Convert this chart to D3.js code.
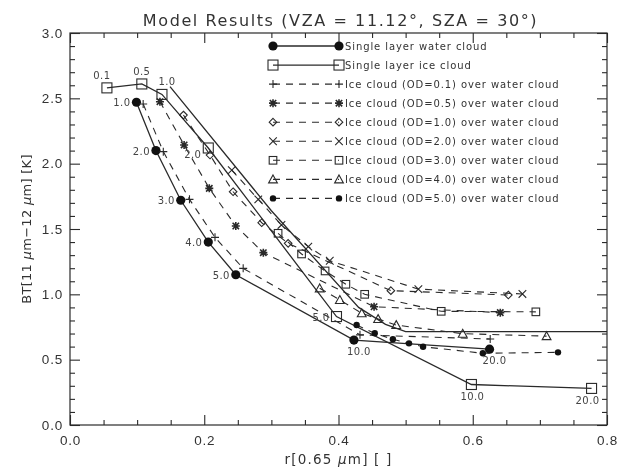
<!DOCTYPE html>
<html>
<head>
<meta charset="utf-8">
<script src="https://cdn.jsdelivr.net/npm/d3@7"></script>
<style>
body { margin: 0; background: #fff; }
svg { display: block; font-family: "DejaVu Sans", sans-serif; filter: blur(0.3px); }
</style>
</head>
<body>
<script>
// single layer water cloud (labels = water OD)
var waterOD = ["1.0", "2.0", "3.0", "4.0", "5.0", "10.0", "20.0"];
var waterR  = [0.099, 0.128, 0.165, 0.206, 0.247, 0.423, 0.625];
var waterBT = [2.47, 2.10, 1.72, 1.40, 1.15, 0.65, 0.58];

// single layer ice cloud (labels = ice OD)
var iceOD = ["0.1", "0.5", "1.0", "2.0", "5.0", "10.0", "20.0"];
var iceR  = [0.055, 0.107, 0.137, 0.206, 0.397, 0.598, 0.777];
var iceBT = [2.58, 2.61, 2.53, 2.12, 0.83, 0.31, 0.28];

// unmarked solid curve
var edgeR  = [0.149, 0.30, 0.43, 0.47, 0.50, 0.80];
var edgeBT = [2.59, 1.64, 0.90, 0.77, 0.715, 0.715];

// ice cloud over water cloud, water OD = 1,2,3,4,5,10,20
var od01R  = [0.109, 0.139, 0.178, 0.216, 0.258, 0.432, 0.626];
var od01BT = [2.457, 2.092, 1.727, 1.436, 1.199, 0.69, 0.658];
var od05R  = [0.134, 0.170, 0.2075, 0.247, 0.288, 0.453, 0.641];
var od05BT = [2.474, 2.143, 1.811, 1.523, 1.319, 0.905, 0.86];
var od10R  = [0.169, 0.2086, 0.243, 0.2856, 0.325, 0.478, 0.653];
var od10BT = [2.372, 2.066, 1.785, 1.548, 1.390, 1.028, 0.995];
var od20R  = [0.241, 0.2805, 0.315, 0.355, 0.387, 0.519, 0.674];
var od20BT = [1.951, 1.727, 1.531, 1.365, 1.257, 1.04, 1.003];
var od30R  = [0.310, 0.345, 0.380, 0.411, 0.439, 0.553, 0.694];
var od30BT = [1.467, 1.309, 1.179, 1.077, 1.000, 0.87, 0.866];
var od40R  = [0.372, 0.402, 0.4346, 0.459, 0.486, 0.585, 0.710];
var od40BT = [1.046, 0.957, 0.855, 0.811, 0.765, 0.699, 0.68];
var od50R  = [0.427, 0.454, 0.481, 0.505, 0.526, 0.615, 0.727];
var od50BT = [0.765, 0.702, 0.656, 0.625, 0.599, 0.549, 0.556];

var legendNames = [
  "Single layer water cloud",
  "Single layer ice cloud",
  "Ice cloud (OD=0.1) over water cloud",
  "Ice cloud (OD=0.5) over water cloud",
  "Ice cloud (OD=1.0) over water cloud",
  "Ice cloud (OD=2.0) over water cloud",
  "Ice cloud (OD=3.0) over water cloud",
  "Ice cloud (OD=4.0) over water cloud",
  "Ice cloud (OD=5.0) over water cloud"
];

var xTicks = [0.0, 0.2, 0.4, 0.6, 0.8];
var yTicks = [0.0, 0.5, 1.0, 1.5, 2.0, 2.5, 3.0];

var W = 620, H = 468;
var ink = "#2a2a2a";

var svg = d3.select("body").append("svg")
    .attr("width", W)
    .attr("height", H);

var x = d3.scaleLinear().domain([0, 0.8]).range([70, 607]);
var y = d3.scaleLinear().domain([0, 3]).range([425, 33]);

// minor tick values
var xMinor = d3.range(0, 0.8001, 0.05).filter(function(v) { return Math.abs(v * 5 - Math.round(v * 5)) > 1e-6; });
var yMinor = d3.range(0, 3.0001, 0.1).filter(function(v) { return Math.abs(v * 2 - Math.round(v * 2)) > 1e-6; });

function styleAxis(g) {
  g.select(".domain").remove();
  g.selectAll(".tick line").attr("stroke", ink).attr("stroke-width", 1.1);
  g.selectAll(".tick text")
    .attr("fill", "#333")
    .style("font-size", "13.5px")
    .style("letter-spacing", "0.8px");
}

var fmt = d3.format(".1f");

// bottom / top
svg.append("g").attr("transform", "translate(0," + y(0) + ")")
  .call(d3.axisBottom(x).tickValues(xTicks).tickFormat(fmt).tickSize(-10).tickPadding(10))
  .call(styleAxis);
svg.append("g").attr("transform", "translate(0," + y(0) + ")")
  .call(d3.axisBottom(x).tickValues(xMinor).tickFormat("").tickSize(-5))
  .call(styleAxis);
svg.append("g").attr("transform", "translate(0," + y(3) + ")")
  .call(d3.axisTop(x).tickValues(xTicks).tickFormat("").tickSize(-10))
  .call(styleAxis);
svg.append("g").attr("transform", "translate(0," + y(3) + ")")
  .call(d3.axisTop(x).tickValues(xMinor).tickFormat("").tickSize(-5))
  .call(styleAxis);

// left / right
svg.append("g").attr("transform", "translate(" + x(0) + ",0)")
  .call(d3.axisLeft(y).tickValues(yTicks).tickFormat(fmt).tickSize(-10).tickPadding(7))
  .call(styleAxis);
svg.append("g").attr("transform", "translate(" + x(0) + ",0)")
  .call(d3.axisLeft(y).tickValues(yMinor).tickFormat("").tickSize(-5))
  .call(styleAxis);
svg.append("g").attr("transform", "translate(" + x(0.8) + ",0)")
  .call(d3.axisRight(y).tickValues(yTicks).tickFormat("").tickSize(-10))
  .call(styleAxis);
svg.append("g").attr("transform", "translate(" + x(0.8) + ",0)")
  .call(d3.axisRight(y).tickValues(yMinor).tickFormat("").tickSize(-5))
  .call(styleAxis);

// frame
svg.append("rect")
  .attr("x", x(0)).attr("y", y(3))
  .attr("width", x(0.8) - x(0)).attr("height", y(0) - y(3))
  .attr("fill", "none").attr("stroke", ink).attr("stroke-width", 1.2);

// titles
svg.append("text")
  .attr("x", (x(0) + x(0.8)) / 2 + 2).attr("y", 26)
  .attr("text-anchor", "middle")
  .attr("fill", "#333")
  .style("font-size", "16px").style("letter-spacing", "1.6px")
  .text("Model Results (VZA = 11.12°, SZA = 30°)");

var xt = svg.append("text")
  .attr("x", (x(0) + x(0.8)) / 2).attr("y", 464)
  .attr("text-anchor", "middle")
  .attr("fill", "#333")
  .style("font-size", "13.5px").style("letter-spacing", "1.2px");
xt.append("tspan").text("r[0.65 ");
xt.append("tspan").attr("font-style", "italic").text("μ");
xt.append("tspan").text("m] [ ]");

var yt = svg.append("text")
  .attr("transform", "translate(31," + ((y(0) + y(3)) / 2) + ") rotate(-90)")
  .attr("text-anchor", "middle")
  .attr("fill", "#333")
  .style("font-size", "13px").style("letter-spacing", "0.3px");
yt.append("tspan").text("BT[11 ");
yt.append("tspan").attr("font-style", "italic").text("μ");
yt.append("tspan").text("m\u221212 ");
yt.append("tspan").attr("font-style", "italic").text("μ");
yt.append("tspan").text("m] [K]");

// markers
function drawMarker(g, type, cx, cy) {
  var s;
  if (type === "circle" || type === "dot") {
    g.append("circle").attr("cx", cx).attr("cy", cy)
      .attr("r", type === "circle" ? 4.6 : 3.2).attr("fill", "#111");
    return;
  }
  if (type === "square" || type === "smallsquare") {
    s = type === "square" ? 5 : 3.8;
    g.append("rect").attr("x", cx - s).attr("y", cy - s)
      .attr("width", 2 * s).attr("height", 2 * s)
      .attr("fill", "none").attr("stroke", ink).attr("stroke-width", 1.1);
    return;
  }
  var p = d3.path();
  if (type === "plus") {
    s = 4;
    p.moveTo(cx - s, cy); p.lineTo(cx + s, cy);
    p.moveTo(cx, cy - s); p.lineTo(cx, cy + s);
  } else if (type === "cross") {
    s = 3.8;
    p.moveTo(cx - s, cy - s); p.lineTo(cx + s, cy + s);
    p.moveTo(cx - s, cy + s); p.lineTo(cx + s, cy - s);
  } else if (type === "asterisk") {
    s = 4;
    p.moveTo(cx - s, cy); p.lineTo(cx + s, cy);
    p.moveTo(cx, cy - s); p.lineTo(cx, cy + s);
    p.moveTo(cx - s * 0.8, cy - s * 0.8); p.lineTo(cx + s * 0.8, cy + s * 0.8);
    p.moveTo(cx - s * 0.8, cy + s * 0.8); p.lineTo(cx + s * 0.8, cy - s * 0.8);
  } else if (type === "diamond") {
    s = 3.8;
    p.moveTo(cx, cy - s); p.lineTo(cx + s, cy); p.lineTo(cx, cy + s); p.lineTo(cx - s, cy); p.closePath();
  } else if (type === "triangle") {
    s = 4.4;
    p.moveTo(cx, cy - s); p.lineTo(cx + s, cy + s * 0.8); p.lineTo(cx - s, cy + s * 0.8); p.closePath();
  }
  g.append("path").attr("d", p.toString())
    .attr("fill", "none").attr("stroke", ink)
    .attr("stroke-width", type === "asterisk" ? 1.6 : 1.1);
}

var series = [
  { r: waterR, bt: waterBT, mark: "circle", dash: null },
  { r: iceR, bt: iceBT, mark: "square", dash: null },
  { r: od01R, bt: od01BT, mark: "plus", dash: "7,6" },
  { r: od05R, bt: od05BT, mark: "asterisk", dash: "7,6" },
  { r: od10R, bt: od10BT, mark: "diamond", dash: "7,6" },
  { r: od20R, bt: od20BT, mark: "cross", dash: "7,6" },
  { r: od30R, bt: od30BT, mark: "smallsquare", dash: "7,6" },
  { r: od40R, bt: od40BT, mark: "triangle", dash: "7,6" },
  { r: od50R, bt: od50BT, mark: "dot", dash: "7,6" }
];

var line = d3.line()
  .x(function(d) { return x(d[0]); })
  .y(function(d) { return y(d[1]); });

var plot = svg.append("g");

// unmarked solid curve
plot.append("path")
  .datum(d3.zip(edgeR, edgeBT))
  .attr("d", line)
  .attr("fill", "none").attr("stroke", ink).attr("stroke-width", 1.3);

series.forEach(function(s) {
  var pts = d3.zip(s.r, s.bt);
  plot.append("path")
    .datum(pts)
    .attr("d", line)
    .attr("fill", "none")
    .attr("stroke", ink)
    .attr("stroke-width", s.dash ? 1.1 : 1.3)
    .attr("stroke-dasharray", s.dash);
  var mg = plot.append("g");
  pts.forEach(function(d) { drawMarker(mg, s.mark, x(d[0]), y(d[1])); });
});

// point labels
var labels = svg.append("g")
  .attr("fill", "#444")
  .style("font-size", "10px")
  .style("letter-spacing", "0.4px");

waterOD.forEach(function(t, i) {
  var px = x(waterR[i]), py = y(waterBT[i]);
  if (i < 5) {
    labels.append("text").attr("x", px - 6).attr("y", py + 4).attr("text-anchor", "end").text(t);
  } else {
    labels.append("text").attr("x", px + 5).attr("y", py + 15).attr("text-anchor", "middle").text(t);
  }
});

iceOD.forEach(function(t, i) {
  var px = x(iceR[i]), py = y(iceBT[i]);
  if (i < 3) {
    var dx = i === 0 ? -5 : (i === 1 ? 0 : 5);
    labels.append("text").attr("x", px + dx).attr("y", py - 9).attr("text-anchor", "middle").text(t);
  } else if (i < 5) {
    labels.append("text").attr("x", px - 7).attr("y", py + (i === 3 ? 10 : 4)).attr("text-anchor", "end").text(t);
  } else {
    labels.append("text").attr("x", px + (i === 5 ? 1 : -4)).attr("y", py + 16).attr("text-anchor", "middle").text(t);
  }
});

// legend
var legend = svg.append("g");
var lx0 = 273, lx1 = 339, ly0 = 46, ldy = 19.05;
series.forEach(function(s, i) {
  var ly = ly0 + i * ldy;
  legend.append("line")
    .attr("x1", lx0).attr("x2", lx1).attr("y1", ly).attr("y2", ly)
    .attr("stroke", ink).attr("stroke-width", s.dash ? 1.1 : 1.3)
    .attr("stroke-dasharray", s.dash);
  drawMarker(legend, s.mark, lx0, ly);
  drawMarker(legend, s.mark, lx1, ly);
  legend.append("text")
    .attr("x", lx1 + 6).attr("y", ly + 3.5)
    .attr("fill", "#333")
    .style("font-size", "10px")
    .style("letter-spacing", "0.9px")
    .text(legendNames[i]);
});
</script>
</body>
</html>
